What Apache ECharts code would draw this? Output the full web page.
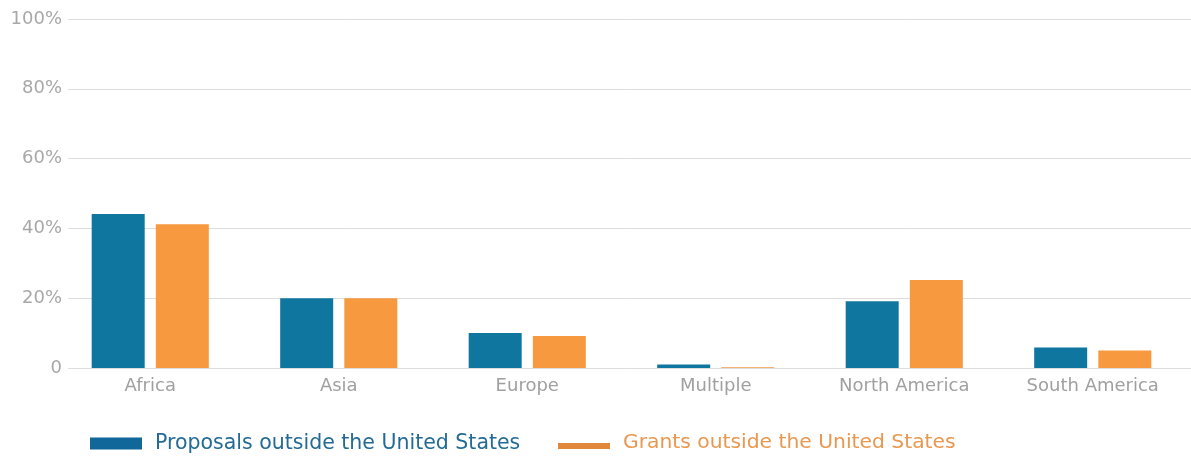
<!DOCTYPE html>
<html>
<head>
<meta charset="utf-8">
<script src="https://cdn.jsdelivr.net/npm/echarts@6/dist/echarts.min.js"></script>
<style>
  html, body { margin: 0; padding: 0; background: #ffffff; }
  #chart { width: 1191px; height: 456px; }
</style>
</head>
<body>
<div id="chart"></div>
<script>
// Share of proposals and grants outside the United States, by region (%)
const regions = ['Africa', 'Asia', 'Europe', 'Multiple', 'North America', 'South America'];
const proposals = [44.1, 20.0, 10.0, 1.0, 19.1, 5.9];
const grants = [41.2, 20.0, 9.2, 0.2, 25.2, 5.0];
const yTicks = [0, 20, 40, 60, 80, 100];

const seriesNames = ['Proposals outside the United States', 'Grants outside the United States'];
const blue = '#0f76a0';
const orange = '#f6993f';
const font = '"DejaVu Sans", sans-serif';

const chart = echarts.init(document.getElementById('chart'), null, { renderer: 'canvas' });

chart.setOption({
  animation: false,
  backgroundColor: '#ffffff',
  textStyle: { fontFamily: font },
  grid: [
    // grid 0 carries the value labels and horizontal rules
    { left: 68, right: 0, top: 19, height: 349 },
    // grid 1 carries the category axis and the bars
    { left: 56, right: 4, top: 19, height: 349 }
  ],
  xAxis: [
    { gridIndex: 0, type: 'value', show: false, min: 0, max: 1 },
    {
      gridIndex: 1,
      type: 'category',
      data: regions,
      axisLine: { show: false },
      axisTick: { show: false },
      axisLabel: { color: '#a0a0a0', fontSize: 18, margin: 9, fontFamily: font }
    }
  ],
  yAxis: [
    {
      gridIndex: 0,
      type: 'value',
      min: yTicks[0],
      max: yTicks[yTicks.length - 1],
      interval: yTicks[1] - yTicks[0],
      axisLine: { show: false },
      axisTick: { show: false },
      splitLine: { lineStyle: { color: '#dddddd', width: 1 } },
      axisLabel: {
        color: '#a8a8a8',
        fontSize: 18,
        margin: 6,
        fontFamily: font,
        formatter: v => (v === 0 ? '0' : v + '%')
      }
    },
    {
      gridIndex: 1,
      type: 'value',
      min: yTicks[0],
      max: yTicks[yTicks.length - 1],
      show: false,
      splitLine: { show: false }
    }
  ],
  legend: [
    {
      data: [seriesNames[0]],
      left: 85,
      top: 428,
      itemWidth: 52,
      itemHeight: 12,
      icon: 'rect',
      itemStyle: { color: '#11669a' },
      textStyle: { color: '#236b96', fontSize: 20.5, fontFamily: font, padding: [0, 0, 0, 8] }
    },
    {
      data: [seriesNames[1]],
      left: 553,
      top: 428,
      itemWidth: 52,
      itemHeight: 12,
      // thin stripe sitting in the lower half of the swatch box
      icon: 'path://M0,0M0,6H52V12H0Z',
      itemStyle: { color: '#e0893a' },
      textStyle: { color: '#e8984f', fontSize: 20.3, fontFamily: font, padding: [0, 0, 0, 8] }
    }
  ],
  series: [
    {
      name: seriesNames[0],
      type: 'bar',
      xAxisIndex: 1,
      yAxisIndex: 1,
      data: proposals,
      barWidth: 53,
      barGap: '21%',
      itemStyle: { color: blue }
    },
    {
      name: seriesNames[1],
      type: 'bar',
      xAxisIndex: 1,
      yAxisIndex: 1,
      data: grants,
      barWidth: 53,
      itemStyle: { color: orange }
    }
  ]
});
</script>
</body>
</html>
